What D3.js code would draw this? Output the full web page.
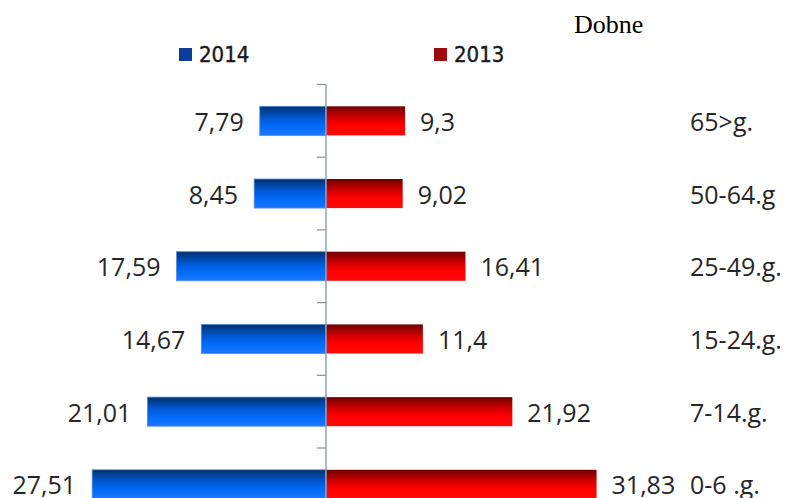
<!DOCTYPE html>
<html>
<head>
<meta charset="utf-8">
<script src="https://cdn.jsdelivr.net/npm/d3@7"></script>
<style>
  html, body { margin: 0; padding: 0; background: #fff; }
  svg { display: block; }
</style>
</head>
<body>
<svg id="chart" width="785" height="498"></svg>
<script>
// ---- data ----
const categories = ["65>g.", "50-64.g", "25-49.g.", "15-24.g.", "7-14.g.", "0-6 .g."];
const values2014 = [7.79, 8.45, 17.59, 14.67, 21.01, 27.51];
const values2013 = [9.3, 9.02, 16.41, 11.4, 21.92, 31.83];
const seriesNames = ["2014", "2013"];
const title = "Dobne";

const fmt = v => String(v).replace(".", ",");

const svg = d3.select("#chart");
const defs = svg.append("defs");

function grad(id, stops) {
  const g = defs.append("linearGradient").attr("id", id)
    .attr("x1", 0).attr("y1", 0).attr("x2", 0).attr("y2", 1);
  stops.forEach(s => g.append("stop").attr("offset", s[0]).attr("stop-color", s[1]));
}
grad("gBlue", [[0, "#00306e"], [0.4, "#0058d0"], [0.65, "#0068f8"], [1, "#1a78ff"]]);
grad("gRed", [[0, "#700000"], [0.4, "#d40000"], [0.65, "#ff0000"], [1, "#ff0a0a"]]);

// scales
const x = d3.scaleLinear().domain([-30, 30]).range([71, 581]);
const y = d3.scaleBand().domain(categories).range([84.5, 84.5 + 6 * 72.7])
  .paddingInner(0.6).paddingOuter(0.3);
const x0 = x(0);

// axis line + ticks at band boundaries
const step = y.step();
const top0 = y.range()[0];
d3.range(0, categories.length).forEach(k => {
  svg.append("line")
    .attr("x1", x0 - 9).attr("x2", x0)
    .attr("y1", top0 + k * step).attr("y2", top0 + k * step)
    .attr("stroke", "#8c8c8c").attr("stroke-width", 1.2);
});

// bars
const g = svg.append("g");
g.selectAll(".b14").data(categories).join("rect")
  .attr("x", (d, i) => x(-values2014[i]))
  .attr("width", (d, i) => x0 - x(-values2014[i]))
  .attr("y", d => y(d)).attr("height", y.bandwidth())
  .attr("fill", "url(#gBlue)")
  .attr("stroke", "#4f8fd8").attr("stroke-width", 0.8);
g.selectAll(".b13").data(categories).join("rect")
  .attr("x", x0)
  .attr("width", (d, i) => x(values2013[i]) - x0)
  .attr("y", d => y(d)).attr("height", y.bandwidth())
  .attr("fill", "url(#gRed)");

// axis line over bars
svg.append("line").attr("x1", x0).attr("x2", x0)
  .attr("y1", top0).attr("y2", 498)
  .attr("stroke", "#8fa2b8").attr("stroke-width", 1.5);

const labelFont = "'Open Sans', sans-serif";
const txtCol = "#262626";
// value labels
g.selectAll(".l14").data(categories).join("text")
  .attr("x", (d, i) => x(-values2014[i]) - 16)
  .attr("y", d => y(d) + y.bandwidth() / 2 + 10)
  .attr("text-anchor", "end")
  .attr("font-family", labelFont).attr("font-size", 25).attr("fill", txtCol)
  .text((d, i) => fmt(values2014[i]));
g.selectAll(".l13").data(categories).join("text")
  .attr("x", (d, i) => x(values2013[i]) + 15)
  .attr("y", d => y(d) + y.bandwidth() / 2 + 10)
  .attr("text-anchor", "start")
  .attr("font-family", labelFont).attr("font-size", 25).attr("fill", txtCol)
  .text((d, i) => fmt(values2013[i]));
// category labels
g.selectAll(".cat").data(categories).join("text")
  .attr("x", 690)
  .attr("y", d => y(d) + y.bandwidth() / 2 + 10)
  .attr("font-family", labelFont).attr("font-size", 25).attr("fill", txtCol)
  .text(d => d);

// legend
const legendItems = [
  { name: seriesNames[0], color: "#0b3c9c", x: 179 },
  { name: seriesNames[1], color: "#a00a0a", x: 434 }
];
legendItems.forEach(it => {
  svg.append("rect").attr("x", it.x).attr("y", 48).attr("width", 13).attr("height", 13)
    .attr("fill", it.color);
  svg.append("text").attr("x", it.x + 20).attr("y", 62)
    .attr("font-family", "'DejaVu Sans Condensed', 'DejaVu Sans', sans-serif").attr("font-size", 22)
    .attr("fill", "#1a1a1a").attr("stroke", "#1a1a1a").attr("stroke-width", 0.4)
    .text(it.name);
});

// title
svg.append("text").attr("x", 574).attr("y", 33)
  .attr("font-family", "'Liberation Serif', 'Times New Roman', serif").attr("font-size", 26)
  .attr("fill", "#000").text(title);
</script>
</body>
</html>
